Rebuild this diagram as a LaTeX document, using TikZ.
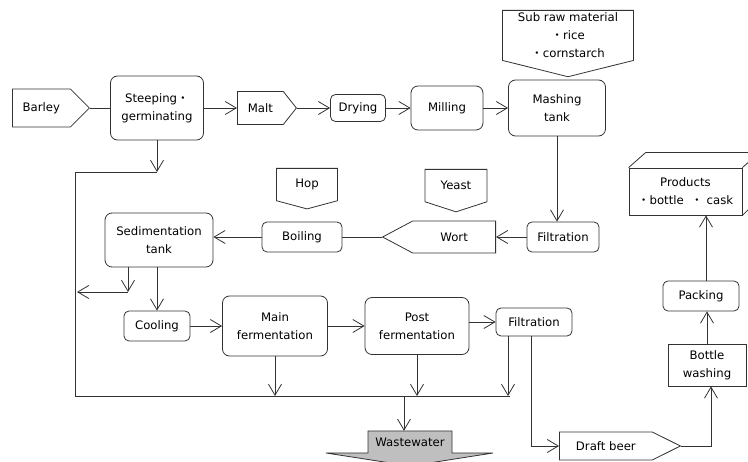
\documentclass[tikz,border=0pt]{standalone}
\usepackage{fontspec}
\setmainfont{DejaVu Sans}
\newfontfamily\cjk{Noto Sans CJK JP}
\usetikzlibrary{positioning,arrows.meta,shapes.symbols}
\newcommand{\kdot}{{\cjk ・}}

\begin{document}
\begin{tikzpicture}[
  x=1pt, y=-1pt,
  font=\fontsize{11.7}{18}\selectfont,
  proc/.style={draw=black!80, line width=0.8pt, rounded corners=7pt, align=center, inner sep=2pt},
  box/.style={draw=black!80, line width=0.8pt, align=center, inner sep=2pt},
  inp/.style={draw=black!80, line width=0.8pt, signal, signal from=nowhere, align=center, inner sep=2pt},
  ln/.style={draw=black!80, line width=0.8pt},
  arr/.style={ln, -{Straight Barb[length=11pt, width=13pt]}}
]
\useasboundingbox (0,0) rectangle (748,462);
\clip (0,0) rectangle (748,462);
% ----- malting line (left -> right) -----
\node[inp, signal to=east, signal pointer angle=90, minimum width=77, minimum height=38, anchor=west] (barley) at (12,108) {Barley};
\node[proc, minimum width=93, minimum height=64]                (steep)   at (157,108) {Steeping\kdot\\germinating};
\node[inp, signal to=east, signal pointer angle=103, minimum width=59, minimum height=33, anchor=west] (malt) at (237,108) {Malt};
\node[proc, rounded corners=5pt, minimum width=55, minimum height=27] (drying) at (358,108) {Drying};
\node[proc, minimum width=72, minimum height=44]                (milling) at (447,108) {Milling};
\node[proc, minimum width=97, minimum height=56]                (mash)    at (557,108) {Mashing\\tank};
\node[inp, signal to=south, signal pointer angle=152, minimum width=131, minimum height=63, anchor=north] (subraw) at (568,10)
  {Sub raw material\\\kdot rice\\\kdot cornstarch};
\draw[ln] (barley.east) -- (steep.west);
\foreach \a/\b in {steep/malt, malt/drying, drying/milling, milling/mash}{\draw[arr] (\a.east) -- (\b.west);}
% ----- wort / boiling line (right -> left) -----
\node[proc, rounded corners=5pt, minimum width=72, minimum height=30] (filt1) at (563,237) {Filtration};
\node[inp, signal to=west, signal pointer angle=56, minimum width=113, minimum height=32, anchor=east] (wort) at (496,237) {Wort};
\node[proc, rounded corners=5pt, minimum width=80, minimum height=30] (boil) at (302,237) {Boiling};
\node[proc, minimum width=108, minimum height=54]                (sed)  at (159,240) {Sedimentation\\tank};
\node[inp, signal to=south, signal pointer angle=150, minimum width=61, minimum height=36, anchor=north] (hop)   at (307,168) {Hop};
\node[inp, signal to=south, signal pointer angle=144, minimum width=62, minimum height=38, anchor=north] (yeast) at (456,169) {Yeast};
\draw[arr] (mash.south) -- (mash.south |- filt1.north);
\draw[arr] (filt1.west) -- (wort.east);
\draw[ln]  (wort.west) -- (boil.east);
\draw[arr] (boil.west) -- (boil.west -| sed.east);
% ----- fermentation line -----
\node[proc, rounded corners=5pt, minimum width=66, minimum height=30] (cool)  at (157,326) {Cooling};
\node[proc, minimum width=105, minimum height=60]               (mainf) at (275,326) {Main\\fermentation};
\node[proc, minimum width=104, minimum height=57]               (postf) at (417,326) {Post\\fermentation};
\node[proc, rounded corners=5pt, minimum width=76, minimum height=28] (filt2) at (534,322) {Filtration};
\draw[arr] (cool.north |- sed.south) -- (cool.north);
\draw[arr] (cool.east) -- (cool.east -| mainf.west);
\draw[arr] (mainf.east) -- (mainf.east -| postf.west);
\draw[arr] (postf.east |- filt2.west) -- (filt2.west);
% ----- wastewater collector -----
\coordinate (wtop)   at (75,172);
\coordinate (wbot)   at (75,396);
\coordinate (wend)   at (510,396);
\coordinate (sedout) at (128,292);
\coordinate (wdrop)  at (404,396);
\filldraw[ln, fill=black!25] (368,431) -- (452,431) -- (452,453) -- (493,453) -- (410,466) -- (326,453) -- (368,453) -- cycle;
\node[minimum width=84, minimum height=22, inner sep=0pt] (waste) at (410,442) {Wastewater};
\draw[arr] (steep.south) -- (steep.south |- wtop);
\draw[ln]  (steep.south |- wtop) -- (wtop) -- (wbot) -- (wend);
\draw[arr] (sed.south -| sedout) -- (sedout);
\draw[arr] (sedout) -- ([xshift=2pt]sedout -| wtop);
\draw[arr] (mainf.south) -- (mainf.south |- wbot);
\draw[arr] (postf.south) -- (postf.south |- wbot);
\draw[arr] ([xshift=-26pt]filt2.south) -- ([xshift=-26pt]filt2.south |- wbot);
\draw[arr] (wdrop) -- (wdrop |- waste.north);
% ----- draft beer -> products -----
\node[inp, signal to=east, signal pointer angle=53, minimum width=121, minimum height=28, anchor=west] (draft) at (559,446) {Draft beer};
\node[box, minimum width=78, minimum height=42]                 (bottle) at (707,365) {Bottle\\washing};
\node[proc, rounded corners=5pt, minimum width=76, minimum height=30] (pack) at (701,296) {Packing};
\node[box, minimum width=113, minimum height=47]                (prod)   at (685.5,191.5) {Products\\\kdot bottle\ \ \kdot\ cask};
\draw[ln] (prod.north west) -- ++(17,-15) -- ++(113,0) -- ++(0,47) -- (prod.south east)
          (prod.north east) -- ++(17,-15);
\draw[arr] ([xshift=-3pt]filt2.south) |- (draft.west);
\draw[arr] (draft.east) -| ([xshift=4pt]bottle.south);
\draw[arr] (bottle.north) -- (bottle.north |- pack.south);
\draw[arr] ([xshift=5pt]pack.north) -- ([xshift=5pt]pack.north |- prod.south);
\end{tikzpicture}
\end{document}
